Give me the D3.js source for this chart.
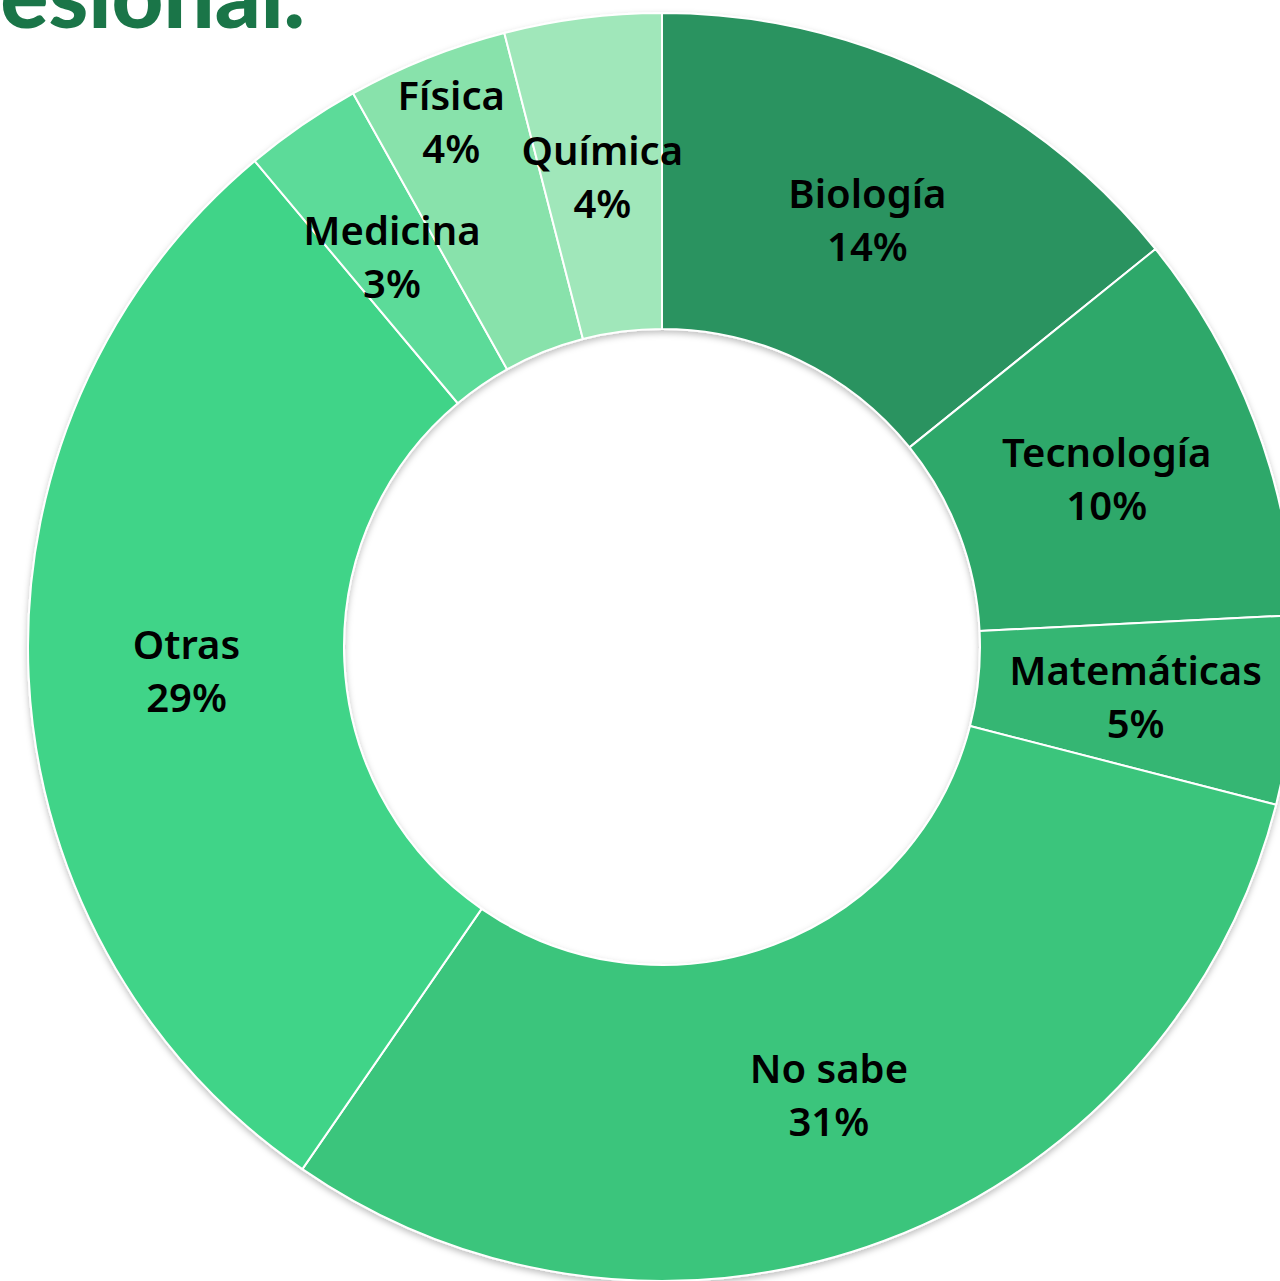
<!DOCTYPE html>
<html>
<head>
<meta charset="utf-8">
<script src="https://cdn.jsdelivr.net/npm/d3@7"></script>
<style>
	body { margin: 0; background: #fff; }
	svg { display: block; }
</style>
</head>
<body>
<script>
// chart data
var areas = ['Biología', 'Tecnología', 'Matemáticas', 'No sabe', 'Otras', 'Medicina', 'Física', 'Química'];
var shares = [14.2, 10.0, 4.8, 30.6, 29.3, 3.0, 4.1, 4.0];
var sliceColors = ['#2a9360', '#2ea86b', '#34b673', '#3ac57c', '#3fd488', '#5cdb99', '#88e2ab', '#a0e7ba'];
var titleTail = 'esional.';

var W = 1280, H = 1281;
var cx = 662, cy = 647;
var rOuter = 634, rInner = 318;
// labels pushed outward so they don't collide with a neighbour
var labelPush = {'Física': 92};

var svg = d3.select('body').append('svg')
	.attr('width', W)
	.attr('height', H);

// soft shadow round the ring
var defs = svg.append('defs');
var f = defs.append('filter')
	.attr('id', 'shadow')
	.attr('x', '-10%').attr('y', '-10%')
	.attr('width', '120%').attr('height', '120%');
f.append('feDropShadow')
	.attr('dx', 0).attr('dy', 3)
	.attr('stdDeviation', 3)
	.attr('flood-color', '#000')
	.attr('flood-opacity', 0.25);

var color = d3.scaleOrdinal()
	.domain(areas)
	.range(sliceColors);

var rows = areas.map(function(a, i){ return {name: a, value: shares[i]}; });

var pie = d3.pie()
	.sort(null)
	.value(function(d){ return d.value; });

var arc = d3.arc()
	.innerRadius(rInner)
	.outerRadius(rOuter);

var g = svg.append('g')
	.attr('transform', 'translate(' + cx + ',' + cy + ')');

var arcs = pie(rows);

g.append('g')
	.attr('filter', 'url(#shadow)')
	.selectAll('path')
	.data(arcs).enter()
	.append('path')
	.attr('d', arc)
	.attr('fill', function(d){ return color(d.data.name); })
	.attr('stroke', '#fff')
	.attr('stroke-width', 2)
	.attr('stroke-linejoin', 'round');

function labelPos(d){
	var push = labelPush[d.data.name] || 0;
	var r = (rInner + rOuter) / 2 + push;
	var a = (d.startAngle + d.endAngle) / 2;
	return [Math.sin(a) * r, -Math.cos(a) * r];
}

// two-line labels at the slice centroids
var labels = g.selectAll('text.lbl')
	.data(arcs).enter()
	.append('text')
	.attr('class', 'lbl')
	.attr('transform', function(d){ return 'translate(' + labelPos(d) + ')'; })
	.attr('text-anchor', 'middle')
	.style('font-family', '"Noto Sans", sans-serif')
	.style('font-weight', 600)
	.style('font-size', '40px')
	.style('fill', '#000');

labels.append('tspan')
	.attr('x', 0)
	.attr('y', -10)
	.text(function(d){ return d.data.name; });
labels.append('tspan')
	.attr('x', 0)
	.attr('y', 43)
	.text(function(d){ return Math.round(d.data.value) + '%'; });

// tail of the page title, cut by the top-left edge
svg.append('text')
	.attr('x', 305)
	.attr('y', 28)
	.attr('text-anchor', 'end')
	.style('font-family', 'Lato, sans-serif')
	.style('font-weight', 900)
	.style('font-size', '90px')
	.style('fill', '#1a7548')
	.text(titleTail);
</script>
</body>
</html>
